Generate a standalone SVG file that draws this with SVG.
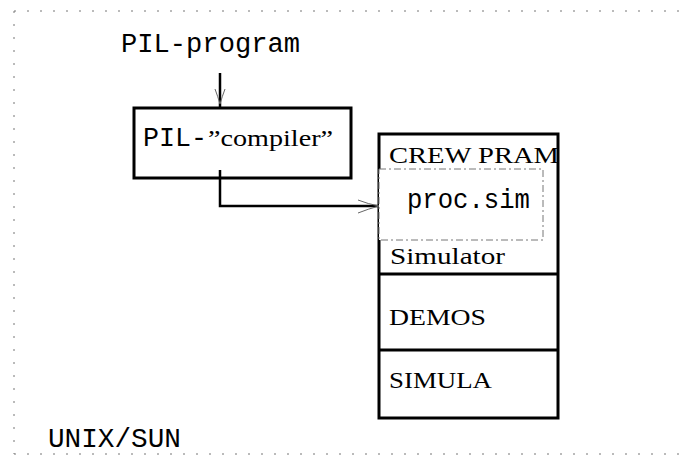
<svg xmlns="http://www.w3.org/2000/svg" width="689" height="457" viewBox="0 0 689 457">
  <defs>
    <style>
      .frame { fill: none; stroke: #777; stroke-width: 1; stroke-dasharray: 2 11; }
      .box { fill: none; stroke: #000; stroke-width: 3; }
      .dash { fill: none; stroke: #777; stroke-width: 1; stroke-dasharray: 7 3 2 3; }
      .wire { fill: none; stroke: #000; stroke-width: 2.5; }
      .head { fill: none; stroke: #666; stroke-width: 1; }
      .mono { font-family: "Liberation Mono", "DejaVu Sans Mono", monospace; font-size: 27px; fill: #000; }
      .serif { font-family: "Liberation Serif", "DejaVu Serif", serif; font-size: 24px; fill: #000; }
    </style>
  </defs>
  <rect width="689" height="457" fill="#fff"/>

  <!-- dotted border of the host system -->
  <g id="host">
    <path class="frame" d="M14 11 H684"/>
    <path class="frame" d="M14 11 V454"/>
    <path class="frame" d="M14 454 H684"/>
    <text class="mono" x="48" y="447" textLength="133" lengthAdjust="spacingAndGlyphs">UNIX/SUN</text>
  </g>

  <g id="program">
    <text class="mono" x="121" y="52" textLength="179" lengthAdjust="spacingAndGlyphs">PIL-program</text>
  </g>

  <g id="compiler">
    <rect class="box" x="134" y="108" width="217" height="70"/>
    <text class="mono" x="143" y="146" textLength="64" lengthAdjust="spacingAndGlyphs">PIL-</text>
    <text class="serif" x="208" y="146" font-size="21" textLength="125" lengthAdjust="spacingAndGlyphs">”compiler”</text>
  </g>

  <g id="simulator-stack">
    <rect class="box" x="379" y="134" width="179" height="284"/>
    <line class="box" x1="379" y1="274" x2="558" y2="274"/>
    <line class="box" x1="379" y1="350" x2="558" y2="350"/>
    <text class="serif" x="389" y="163" textLength="170" lengthAdjust="spacingAndGlyphs">CREW PRAM</text>
    <text class="serif" x="390" y="264" textLength="115" lengthAdjust="spacingAndGlyphs">Simulator</text>
    <text class="serif" x="389" y="325" textLength="97" lengthAdjust="spacingAndGlyphs">DEMOS</text>
    <text class="serif" x="389" y="388" textLength="103" lengthAdjust="spacingAndGlyphs">SIMULA</text>
  </g>

  <g id="proc-sim">
    <rect x="379" y="169" width="164" height="71" fill="#fff"/>
    <rect class="dash" x="379" y="169" width="164" height="71"/>
    <text class="mono" x="407" y="208" textLength="123" lengthAdjust="spacingAndGlyphs">proc.sim</text>
  </g>

  <g id="connectors">
    <line class="wire" x1="220" y1="73" x2="220" y2="108"/>
    <path class="head" d="M215 89 Q218 97 220 104 Q222 97 225 89"/>
    <path class="wire" d="M220 170 V206 H378"/>
    <path class="head" d="M358 200 Q368 204 379 206 Q368 209 358 213"/>
  </g>
</svg>
